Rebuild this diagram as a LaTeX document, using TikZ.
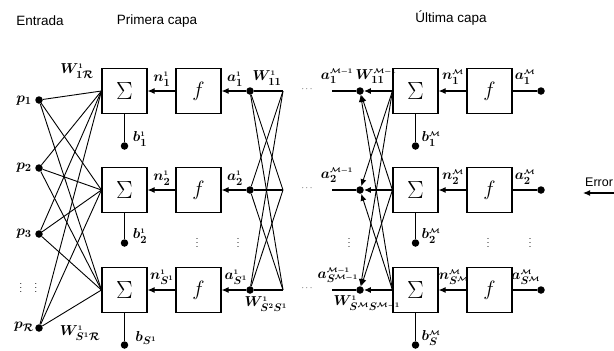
\documentclass[tikz,border=0pt]{standalone}
\usepackage{fontspec}
\setmainfont{Liberation Sans}
\usetikzlibrary{arrows.meta}
\newcommand\supx[1]{^{\scriptscriptstyle #1}}
\newcommand\myM{\mathcal{M}}
\begin{document}
\begin{tikzpicture}[x=1pt,y=-1pt,
  box/.style={draw,line width=1.1pt,minimum size=45pt,inner sep=0pt},
  dot/.style={circle,fill,inner sep=0pt,minimum size=7.5pt},
  lab/.style={inner sep=0pt,font=\fontsize{15}{17}\selectfont\boldmath},
  hdr/.style={inner sep=0pt,font=\fontsize{13.5}{15}\selectfont},
  ln/.style={line width=1.1pt},
  arr/.style={line width=1.1pt,-{Latex[length=7pt,width=6pt]}},
  vd/.style={inner sep=0pt,font=\fontsize{9}{10}\selectfont},
  hd/.style={inner sep=0pt,font=\fontsize{9}{10}\selectfont}]
\useasboundingbox (0,0) rectangle (614,351);
% headers
\node[hdr] (h1) at (40,21) {Entrada};
\node[hdr] (h2) at (157,21) {Primera capa};
\node[hdr] (h3) at (451,18) {Última capa};
% boxes
\foreach \i/\y in {1/91,2/190,3/290}{
  \node[box,font=\fontsize{24}{26}\selectfont] (s\i) at (124.5,\y) {$\Sigma$};
  \node[box,font=\fontsize{22}{24}\selectfont] (f\i) at (198.5,\y) {$f$};
  \node[box,font=\fontsize{24}{26}\selectfont] (t\i) at (415.5,\y) {$\Sigma$};
  \node[box,font=\fontsize{22}{24}\selectfont] (g\i) at (489.5,\y) {$f$};
  \node[dot] (a\i) at (250,\y) {};
  \coordinate (r\i) at (283,\y);
  \node[hd] (e\i) at (307,\y-2) {$\cdots$};
  \coordinate (l\i) at (332,\y);
  \node[dot] (m\i) at (360,\y) {};
  \node[dot] (o\i) at (541,\y) {};
  \draw[arr] (f\i.west) -- (s\i.east);
  \draw[arr] (a\i) -- (f\i.east);
  \draw[ln] (a\i) -- (r\i);
  \draw[arr] (g\i.west) -- (t\i.east);
  \draw[ln] (g\i.east) -- (o\i);
  \draw[ln] (l\i) -- (m\i);
}
% biases
\foreach \i/\y in {1/146,2/243,3/345}{
  \node[dot] (b\i) at (124.5,\y) {};
  \draw[ln] (s\i.south) -- (b\i);
  \node[dot] (c\i) at (415.5,\y) {};
  \draw[ln] (t\i.south) -- (c\i);
}
% inputs
\node[dot] (p1) at (39,100) {};
\node[dot] (p2) at (39,168) {};
\node[dot] (p3) at (39,234) {};
\node[dot] (p4) at (39,328) {};
\foreach \i in {1,2,3,4}{
  \foreach \j in {1,2,3}{
    \draw[line width=0.9pt] (p\i) -- (s\j.west);
  }
}
% crosses
\foreach \i in {1,2,3}{
  \foreach \j in {1,2,3}{
    \ifnum\i=\j\else
      \draw[line width=0.9pt] (a\i) -- (r\j);
      \draw[line width=0.9pt,-{Latex[length=7pt,width=6pt]}] (t\j.west) -- (m\i);
    \fi
  }
  \draw[arr] (t\i.west) -- (m\i);
}
% error
\coordinate (er) at (614,193);
\coordinate (el) at (583,193);
\draw[arr] (er) -- (el);
\node[hd,anchor=west,font=\fontsize{12.5}{13}\selectfont] (et) at (585,182) {Error};
% vertical dots
\node[vd] (v1) at (21,285) {$\vdots$};
\node[vd] (v2) at (36,285) {$\vdots$};
\node[vd] (v3) at (197,240) {$\vdots$};
\node[vd] (v4) at (238,240) {$\vdots$};
\node[vd] (v5) at (349,240) {$\vdots$};
\node[vd] (v6) at (488,240) {$\vdots$};
\node[vd] (v7) at (530,240) {$\vdots$};
% labels input
\node[lab] (lp1) at (24,101) {$p_{1}$};
\node[lab] (lp2) at (24,168) {$p_{2}$};
\node[lab] (lp3) at (24,234) {$p_{3}$};
\node[lab] (lp4) at (24,327) {$p_{\mathcal{R}}$};
\node[lab] (lw1) at (77,71) {$W\supx{1}_{1\mathcal{R}}$};
\node[lab] (lw2) at (80,333) {$W\supx{1}_{S\supx{1}\mathcal{R}}$};
\node[lab] (lb1) at (140,139) {$b\supx{1}_{1}$};
\node[lab] (lb2) at (140,236) {$b\supx{1}_{2}$};
\node[lab] (lb3) at (146,338) {$b_{S\supx{1}}$};
\node[lab] (ln1) at (162,79) {$n\supx{1}_{1}$};
\node[lab] (ln2) at (162,178) {$n\supx{1}_{2}$};
\node[lab] (ln3) at (162,277) {$n\supx{1}_{S\supx{1}}$};
\node[lab] (la1) at (235,79) {$a\supx{1}_{1}$};
\node[lab] (la2) at (235,178) {$a\supx{1}_{2}$};
\node[lab] (la3) at (236,277) {$a\supx{1}_{S\supx{1}}$};
\node[lab] (lw3) at (267,78) {$W\supx{1}_{11}$};
\node[lab] (lw4) at (266,304) {$W\supx{1}_{S\supx{2}S\supx{1}}$};
% last layer labels
\node[lab] (lm1) at (337,76) {$a\supx{\myM-1}_{1}$};
\node[lab] (lm2) at (337,175) {$a\supx{\myM-1}_{2}$};
\node[lab] (lm3) at (338,275) {$a\supx{\myM-1}_{S\supx{\myM-1}}$};
\node[lab] (lw5) at (376,76) {$W\supx{\myM-1}_{11}$};
\node[lab] (lw6) at (367,303) {$W\supx{1}_{S\supx{\myM}S\supx{\myM-1}}$};
\node[lab] (lc1) at (431,139) {$b\supx{\myM}_{1}$};
\node[lab] (lc2) at (431,236) {$b\supx{\myM}_{2}$};
\node[lab] (lc3) at (431,338) {$b\supx{\myM}_{S}$};
\node[lab] (lq1) at (453,77) {$n\supx{\myM}_{1}$};
\node[lab] (lq2) at (453,177) {$n\supx{\myM}_{2}$};
\node[lab] (lq3) at (454,277) {$n\supx{\myM}_{S\supx{\myM}}$};
\node[lab] (lo1) at (525,77) {$a\supx{\myM}_{1}$};
\node[lab] (lo2) at (525,177) {$a\supx{\myM}_{2}$};
\node[lab] (lo3) at (526,277) {$a\supx{\myM}_{S\supx{\myM}}$};
\end{tikzpicture}
\end{document}
